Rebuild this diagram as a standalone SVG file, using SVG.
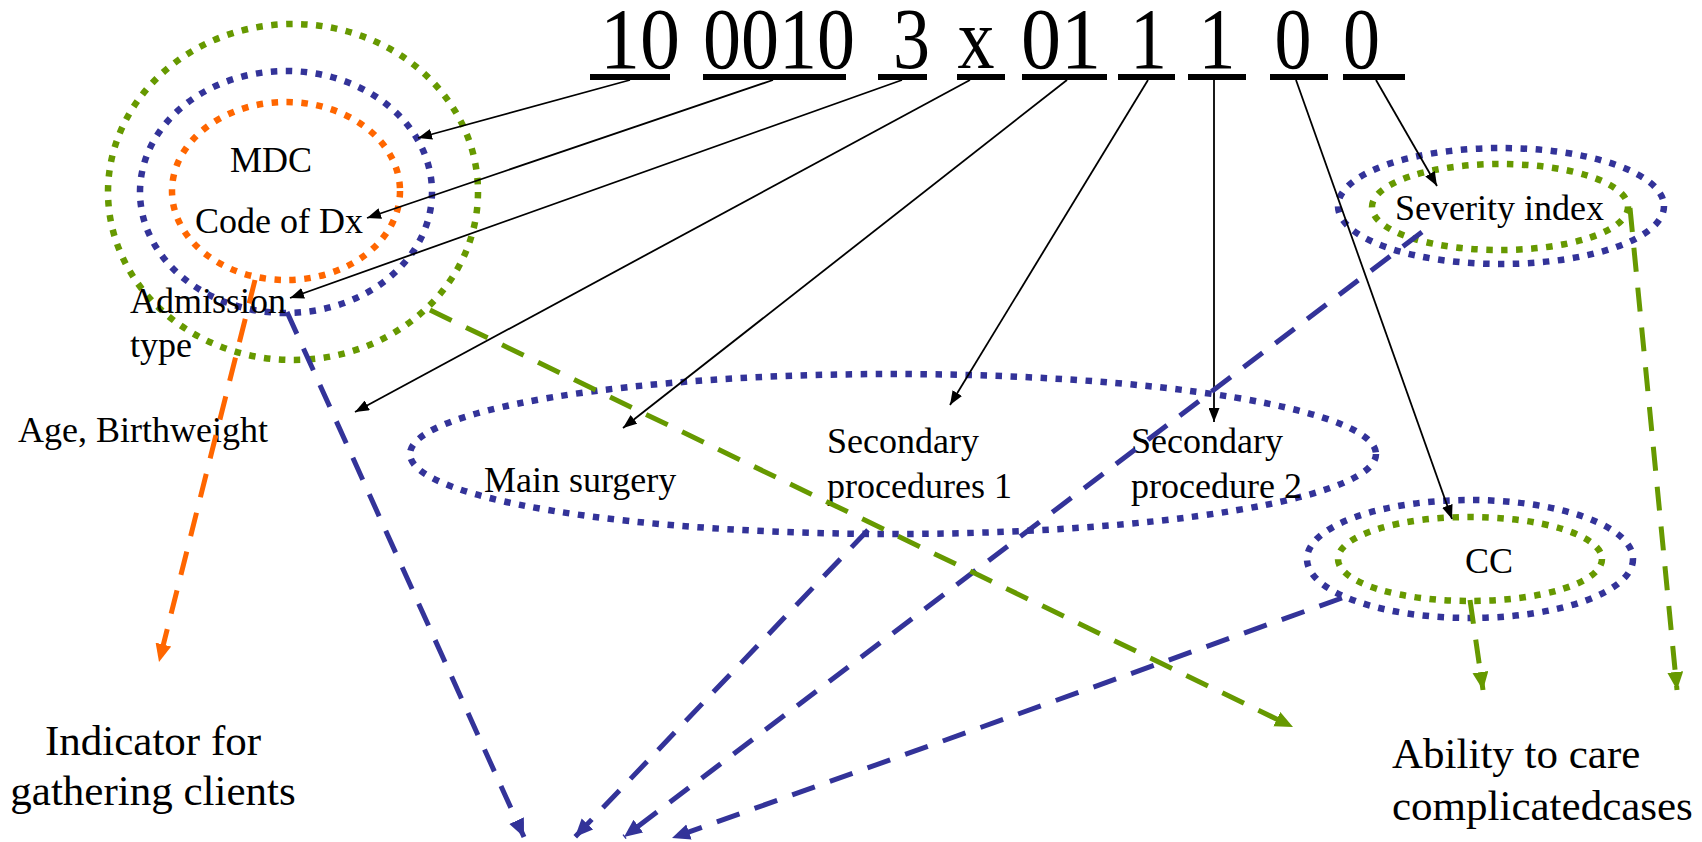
<svg xmlns="http://www.w3.org/2000/svg" width="1702" height="842" viewBox="0 0 1702 842">
  <style>
    text { font-family: "Liberation Serif", "Times New Roman", serif; fill: #000; }
    .code { font-size: 86px; }
    .lbl { font-size: 36px; }
    .big { font-size: 43px; }
    .bar { fill: #000; }
    .dot { fill: none; stroke-width: 6.5; stroke-dasharray: 6.5 8.5; }
    .g { stroke: #669900; }
    .b { stroke: #333399; }
    .o { stroke: #FF6600; }
    .thin { fill: none; stroke: #000; stroke-width: 1.8; marker-end: url(#ah); }
    .dash { fill: none; stroke-width: 5; stroke-dasharray: 24 16; }
  </style>
  <defs>
    <marker id="ah" markerUnits="userSpaceOnUse" markerWidth="15" markerHeight="11" refX="14" refY="5.5" orient="auto">
      <path d="M0,0 L14,5.5 L0,11 z" fill="#000"/>
    </marker>
    <marker id="ahB" markerUnits="userSpaceOnUse" markerWidth="19" markerHeight="17" refX="18" refY="8" orient="auto">
      <path d="M0,0 L18,8 L0,16 z" fill="#333399"/>
    </marker>
    <marker id="ahG" markerUnits="userSpaceOnUse" markerWidth="19" markerHeight="17" refX="18" refY="8" orient="auto">
      <path d="M0,0 L18,8 L0,16 z" fill="#669900"/>
    </marker>
    <marker id="ahO" markerUnits="userSpaceOnUse" markerWidth="19" markerHeight="17" refX="18" refY="8" orient="auto">
      <path d="M0,0 L18,8 L0,16 z" fill="#FF6600"/>
    </marker>
  </defs>
  <rect width="1702" height="842" fill="#fff"/>

  <!-- code digits with their underline bars -->
  <g id="code">
    <text class="code" x="600" y="68" textLength="80" lengthAdjust="spacingAndGlyphs">10</text>
    <text class="code" x="703" y="68" textLength="152" lengthAdjust="spacingAndGlyphs">0010</text>
    <text class="code" x="893" y="68" textLength="37" lengthAdjust="spacingAndGlyphs">3</text>
    <text class="code" x="957.5" y="68" textLength="37" lengthAdjust="spacingAndGlyphs">x</text>
    <text class="code" x="1021" y="68" textLength="80" lengthAdjust="spacingAndGlyphs">01</text>
    <text class="code" x="1130" y="68" textLength="37" lengthAdjust="spacingAndGlyphs">1</text>
    <text class="code" x="1198.5" y="68" textLength="37" lengthAdjust="spacingAndGlyphs">1</text>
    <text class="code" x="1274.5" y="68" textLength="37" lengthAdjust="spacingAndGlyphs">0</text>
    <text class="code" x="1343" y="68" textLength="37" lengthAdjust="spacingAndGlyphs">0</text>
    <rect class="bar" x="590" y="74" width="80" height="6"/>
    <rect class="bar" x="703" y="74" width="143" height="6"/>
    <rect class="bar" x="878" y="74" width="49" height="6"/>
    <rect class="bar" x="957" y="74" width="48" height="6"/>
    <rect class="bar" x="1022" y="74" width="85" height="6"/>
    <rect class="bar" x="1118" y="74" width="57" height="6"/>
    <rect class="bar" x="1188" y="74" width="58" height="6"/>
    <rect class="bar" x="1270" y="74" width="58" height="6"/>
    <rect class="bar" x="1343" y="74" width="62" height="6"/>
  </g>

  <!-- nested rings: MDC / Code of Dx / Admission type -->
  <g id="node-dx">
    <ellipse class="dot g" cx="293" cy="192" rx="185" ry="168"/>
    <ellipse class="dot b" cx="286" cy="192" rx="146" ry="121"/>
    <ellipse class="dot o" cx="286" cy="191" rx="114" ry="89"/>
    <text class="lbl" x="230" y="172">MDC</text>
    <text class="lbl" x="195" y="233">Code of Dx</text>
    <text class="lbl" x="130" y="313">Admission</text>
    <text class="lbl" x="130" y="357">type</text>
  </g>

  <g id="node-age">
    <text class="lbl" x="18" y="442">Age, Birthweight</text>
  </g>

  <g id="node-procedures">
    <ellipse class="dot b" cx="893" cy="454" rx="483" ry="80"/>
    <text class="lbl" x="484" y="492">Main surgery</text>
    <text class="lbl" x="827" y="453">Secondary</text>
    <text class="lbl" x="827" y="498">procedures 1</text>
    <text class="lbl" x="1131" y="453">Secondary</text>
    <text class="lbl" x="1131" y="498">procedure 2</text>
  </g>

  <g id="node-severity">
    <ellipse class="dot b" cx="1501" cy="206" rx="163" ry="58"/>
    <ellipse class="dot g" cx="1500" cy="207" rx="128" ry="43"/>
    <text class="lbl" x="1395" y="220">Severity index</text>
  </g>

  <g id="node-cc">
    <ellipse class="dot b" cx="1470" cy="559" rx="163" ry="59"/>
    <ellipse class="dot g" cx="1470" cy="559" rx="132" ry="42"/>
    <text class="lbl" x="1489" y="573" text-anchor="middle">CC</text>
  </g>

  <g id="node-clients">
    <text class="big" x="153" y="755" text-anchor="middle">Indicator for</text>
    <text class="big" x="153" y="805" text-anchor="middle">gathering clients</text>
  </g>

  <g id="node-ability">
    <text class="big" x="1392" y="768">Ability to care</text>
    <text class="big" x="1392" y="820">complicatedcases</text>
  </g>

  <!-- connectors -->
  <g id="connectors">
    <!-- digit groups to their meanings -->
    <path class="thin" d="M630,80 L418,138"/>
    <path class="thin" d="M773,80 L367,218"/>
    <path class="thin" d="M902,80 L290,298"/>
    <path class="thin" d="M970,80 L355,412"/>
    <path class="thin" d="M1067,80 L623,428"/>
    <path class="thin" d="M1148,80 L950,405"/>
    <path class="thin" d="M1214,80 L1214,422"/>
    <path class="thin" d="M1296,80 L1452,519"/>
    <path class="thin" d="M1376,80 L1437,186"/>

    <!-- indicator flows -->
    <path class="dash o" d="M255,280 L159,662" marker-end="url(#ahO)"/>
    <path class="dash b" d="M287,312 L524,837" marker-end="url(#ahB)"/>
    <path class="dash b" d="M868,530 L575,837" marker-end="url(#ahB)"/>
    <path class="dash b" d="M1422,232 L624,837" marker-end="url(#ahB)"/>
    <path class="dash b" d="M1342,598 L672,838" marker-end="url(#ahB)"/>
    <path class="dash g" d="M430,310 L1293,727" marker-end="url(#ahG)"/>
    <path class="dash g" d="M1630,208 L1677,690" marker-end="url(#ahG)"/>
    <path class="dash g" d="M1470,600 L1483,690" marker-end="url(#ahG)"/>
  </g>
</svg>
